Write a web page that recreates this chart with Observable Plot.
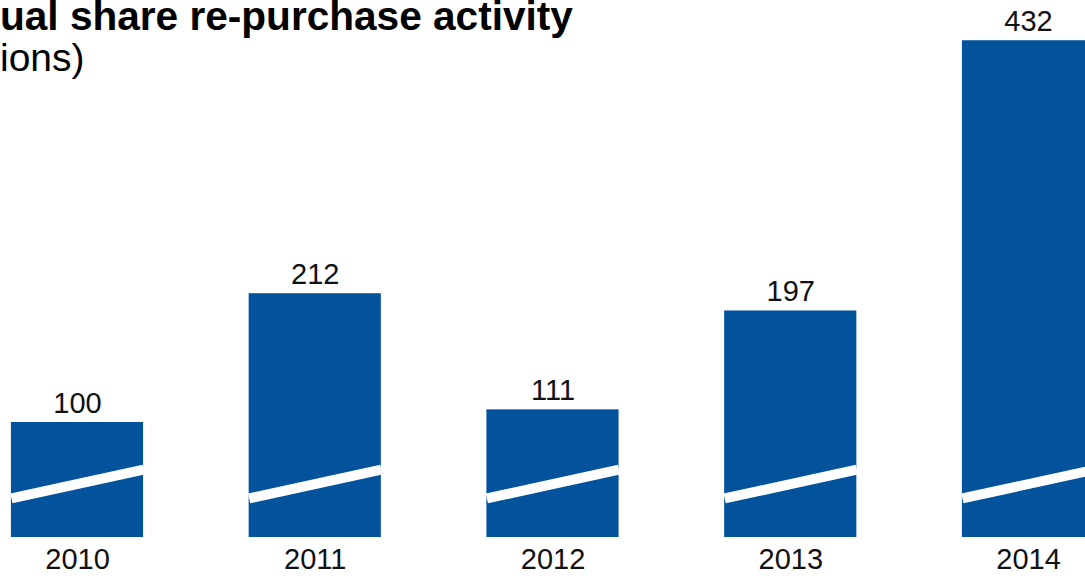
<!DOCTYPE html>
<html>
<head>
<meta charset="utf-8">
<script src="https://cdn.jsdelivr.net/npm/d3@7"></script>
<script src="https://cdn.jsdelivr.net/npm/@observablehq/plot@0.6"></script>
<style>
  html, body { margin: 0; padding: 0; background: #fff; overflow: hidden; }
  #wrap { position: relative; width: 1085px; height: 579px; overflow: hidden; }
  .t { position: absolute; white-space: nowrap; color: #000; font-family: "Liberation Sans", Arial, sans-serif; }
  #title { left: 0px; top: 1px; font-size: 40.6px; line-height: 30px; font-weight: bold; }
  #subtitle { left: 0px; top: 38px; font-size: 39px; line-height: 39px; }
</style>
</head>
<body>
<div id="wrap">
  <div id="chart"></div>
  <div id="title" class="t">ual share re-purchase activity</div>
  <div id="subtitle" class="t">ions)</div>
</div>
<script>
const years = [2010, 2011, 2012, 2013, 2014];
const values = [100, 212, 111, 197, 432];
const yearLabels = ["2010", "2011", "2012", "2013", "2014"];
// axis-break stripe levels (in data units) at the left and right edge of each bar
const breakLeft = 34;
const breakRight = 59;

const data = years.map((y, i) => ({year: y, value: values[i], label: yearLabels[i]}));
const half = 0.278;
const blue = "#02529c";
const font = "Liberation Sans, Arial, sans-serif";

const chart = Plot.plot({
  width: 1085,
  height: 579,
  marginLeft: 77,
  marginRight: 57,
  marginTop: 0,
  marginBottom: 42,
  style: {background: "#fff", fontFamily: font},
  x: {domain: [2010, 2014], axis: null},
  y: {domain: [0, 467], axis: null},
  marks: [
    Plot.rectY(data, {x1: d => d.year - half, x2: d => d.year + half, y1: 0, y2: "value", fill: blue}),
    Plot.link(data, {x1: d => d.year - half, x2: d => d.year + half, y1: () => breakLeft, y2: () => breakRight, stroke: "#fff", strokeWidth: 10, strokeLinecap: "butt"}),
    Plot.text(data, {x: "year", y: "value", text: d => String(d.value), lineAnchor: "bottom", dy: -10, fontSize: 29, fill: "#111"}),
    Plot.text(data, {x: "year", y: () => 0, text: "label", lineAnchor: "bottom", dy: 31, fontSize: 29, fill: "#111"})
  ]
});
document.getElementById("chart").appendChild(chart);
</script>
</body>
</html>
